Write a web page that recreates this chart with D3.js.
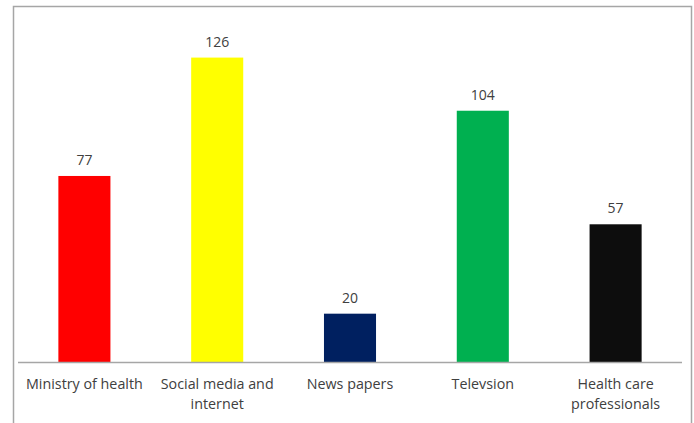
<!DOCTYPE html>
<html>
<head>
<meta charset="utf-8">
<script src="https://cdn.jsdelivr.net/npm/d3@7"></script>
<style>
  body { margin: 0; background: #fff; }
  svg { display: block; }
</style>
</head>
<body>
<div id="chart"></div>
<script>
// Data
var categories = ["Ministry of health", "Social media and internet", "News papers", "Televsion", "Health care professionals"];
var labelLines = [["Ministry of health"], ["Social media and", "internet"], ["News papers"], ["Televsion"], ["Health care", "professionals"]];
var values = [77, 126, 20, 104, 57];
var colors = ["#ff0000", "#ffff00", "#002060", "#00b050", "#0d0d0d"];

// Dimensions
var svgWidth = 694;
var svgHeight = 423;
var plotLeft = 18;
var plotRight = 682;
var baseline = 362;

var svg = d3.select("#chart")
  .append("svg")
  .attr("width", svgWidth)
  .attr("height", svgHeight);

// Frame
svg.append("rect")
  .attr("x", 13.5)
  .attr("y", 6.5)
  .attr("width", 678)
  .attr("height", 430)
  .attr("fill", "none")
  .attr("stroke", "#a6a6a6")
  .attr("stroke-width", 1.5);

// Scales
var x = d3.scaleBand()
  .domain(categories)
  .range([plotLeft, plotRight])
  .paddingInner(0.608)
  .paddingOuter(0.304);

var y = d3.scaleLinear()
  .domain([0, 140])
  .range([baseline, baseline - 140 * 2.416]);

// Bars
svg.selectAll(".bar")
  .data(values)
  .enter()
  .append("rect")
  .attr("class", "bar")
  .attr("x", (d, i) => x(categories[i]))
  .attr("y", d => y(d))
  .attr("width", x.bandwidth())
  .attr("height", d => baseline - y(d))
  .attr("fill", (d, i) => colors[i]);

// Value labels
svg.selectAll(".val")
  .data(values)
  .enter()
  .append("text")
  .attr("class", "val")
  .attr("x", (d, i) => x(categories[i]) + x.bandwidth() / 2)
  .attr("y", d => y(d) - 11)
  .attr("text-anchor", "middle")
  .attr("font-family", "'Open Sans', sans-serif")
  .attr("font-size", 14)
  .attr("fill", "#404040")
  .text(d => d);

// Axis line
svg.append("line")
  .attr("x1", plotLeft)
  .attr("x2", plotRight)
  .attr("y1", baseline + 0.5)
  .attr("y2", baseline + 0.5)
  .attr("stroke", "#a6a6a6")
  .attr("stroke-width", 1.5);

// Category labels
var cat = svg.selectAll(".cat")
  .data(labelLines)
  .enter()
  .append("text")
  .attr("class", "cat")
  .attr("text-anchor", "middle")
  .attr("font-family", "'Open Sans', sans-serif")
  .attr("font-size", 14.3)
  .attr("fill", "#404040");

cat.selectAll("tspan")
  .data((d, i) => d.map(t => ({ t: t, i: i })))
  .enter()
  .append("tspan")
  .attr("x", d => x(categories[d.i]) + x.bandwidth() / 2)
  .attr("y", (d, j) => 389 + j * 20)
  .text(d => d.t);
</script>
</body>
</html>
